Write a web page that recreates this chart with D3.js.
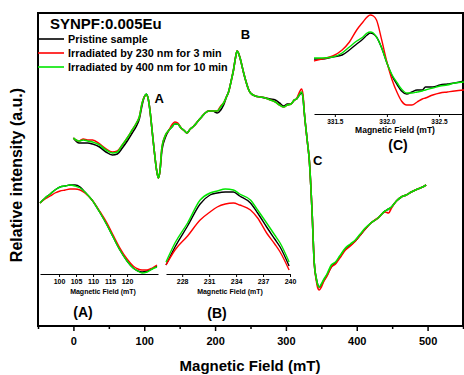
<!DOCTYPE html>
<html>
<head>
<meta charset="utf-8">
<script src="https://cdn.jsdelivr.net/npm/d3@7"></script>
<style>
	body { margin: 0; background: #fff; }
	svg text { font-family: "Liberation Sans", Arial, sans-serif; font-weight: bold; fill: #000; }
</style>
</head>
<body>
<div id="chart"></div>
<script>

///////////////////////////////////////////////////////////////////////////
//////////////////////////////// The data /////////////////////////////////
///////////////////////////////////////////////////////////////////////////

var seriesNames = ["Pristine sample", "Irradiated by 230 nm for 3 min", "Irradiated by 400 nm for 10 min"];
var seriesColors = ["#000000", "#ff0000", "#00e600"];
var peakLabels = ["A", "B", "C"];
var peakFields = [121, 243, 345];
var peakValues = [67, 131, 5];

var xTicks = [0, 100, 200, 300, 400, 500];

//Main spectrum (mT, a.u.)
var mainField = [0,8,14,20,27,37,46,55,62,69,76,83,89,93,97,100,103,105,108,111,114,117,120,122,125,130,135,139,143,147,152,157,160,165,170,176,181,186,191,197,203,208,212,216,219,223,226,229,231,233,236,240,243,247,250,257,264,271,278,285,291,297,302,307,312,315,318,322,324,326,330,333,337,340,343,345,347,350,353,358,364,370,376,384,391,398,405,412,420,430,440,445,449,456,463,470,477,486,493,498];
var mainBlack = [32,27,27,27,26,23,18,15,16,22,29,37,44,51,65,73,76,73,60,40,20,2,-8,-2,20,33,40,43,46,46,42,39,37,41,44,49,53,57,59,59,57,60,65,73,78,90,100,113,119,117,110,98,90,81,77,74,73,72,71,70,67,64,66,66,70,71,74,77,73,57,30,10,-43,-93,-109,-115,-117,-115,-111,-105,-97,-93,-87,-79,-75,-71,-65,-59,-53,-48,-41,-39,-37,-31,-27,-25,-22,-19,-17,-15];
var mainRed = [32,29,31,30,30,26,21,18,19,25,32,40,47,53,67,73,75,73,60,40,20,2,-8,-2,23,35,40,45,48,47,42,39,37,41,44,49,53,57,59,59,59,64,67,73,78,90,100,113,119,117,110,98,90,81,77,74,73,72,70,68,65,63,65,66,70,71,76,81,76,57,30,10,-43,-93,-111,-118,-120,-117,-112,-106,-97,-94,-88,-80,-76,-71,-65,-59,-53,-48,-42,-43,-38,-31,-27,-25,-22,-19,-17,-15];
var mainGreen = [32,29,30,29,28,25,20,17,18,25,32,40,47,53,67,73,76,73,60,40,20,2,-8,-2,23,35,40,43,46,46,42,39,37,41,44,49,53,57,59,59,59,63,67,73,78,90,100,113,119,117,110,98,90,81,77,74,73,72,70,68,65,63,65,66,70,71,74,78,73,57,30,10,-43,-93,-109,-115,-117,-114,-110,-104,-95,-92,-86,-78,-74,-70,-64,-58,-53,-48,-41,-39,-37,-31,-27,-25,-22,-19,-17,-15];

//Inset (A)
var insetAField = [94.4,95.9,97.4,98.8,100.3,101.8,103.2,104.7,106.2,107.6,109.7,112.1,114.1,115.9,117.9,120.0,121.8,123.2,124.4,125.9,127.4,128.8];
var insetABlack = [71,76,80,84,87,88,89,89,87,82,74,61,49,37,24,13,6,3,2,3,5,8];
var insetARed = [71,75,78,81,83,84,85,85,84,81,74,62,51,39,26,15,8,5,4,4,6,9];
var insetAGreen = [71,76,80,84,87,88,89,88,86,82,74,61,49,37,24,13,6,3,1,2,5,7];
var insetATicks = [100, 105, 110, 115, 120];

//Inset (B)
var insetBField = [226.2,227.2,228.6,230.0,231.1,231.9,232.8,233.7,234.4,235.6,236.4,237.4,238.3,238.9,239.9];
var insetBBlack = [9,27,48,70,79,81,82,82,78,71,61,47,35,27,8];
var insetBRed = [9,24,38,54,62,67,70,71,69,64,56,41,30,22,4];
var insetBGreen = [12,31,51,74,81,83,85,84,80,74,64,51,39,31,12];
var insetBTicks = [228, 231, 234, 237, 240];

//Inset (C)
var insetCField = [331.30,331.375,331.48,331.57,331.64,331.71,331.77,331.81,331.84,331.87,331.90,331.95,332.00,332.05,332.10,332.14,332.19,332.24,332.29,332.34,332.37,332.44,332.51,332.58,332.65,332.74];
var insetCBlack = [55,55,57,59,64,70,75,79,81,80,77,66,51,38,29,23,20,22,24,24,27,27,29,30,31,33];
var insetCRed = [53,55,58,64,72,84,92,97,99,98,94,74,52,34,21,13,9,9,12,15,16,19,21,22,23,24];
var insetCGreen = [56,56,57,61,67,73,77,81,82,81,77,66,51,39,31,25,21,21,22,23,24,26,28,29,31,32];
var insetCTicks = [331.5, 332.0, 332.5];

///////////////////////////////////////////////////////////////////////////
//////////////////// Set up and initiate svg container ////////////////////
///////////////////////////////////////////////////////////////////////////

var width = 464;
var height = 375;
var margin = { top: 13, right: 1, bottom: 49, left: 38 };

var svg = d3.select("#chart")
	.append("svg")
	.attr("width", width)
	.attr("height", height);

var x = d3.scaleLinear()
	.domain([-50, 550])
	.range([margin.left, width - margin.right]);

var y = d3.scaleLinear()
	.domain([-156, 157])
	.range([height - margin.bottom, margin.top]);

var line = function(xs, ys) {
	return d3.line()
		.x(function(d) { return xs(d[0]); })
		.y(function(d) { return ys(d[1]); })
		.curve(d3.curveMonotoneX);
};

var zip = function(a, b) { return a.map(function(d, i) { return [d, b[i]]; }); };

///////////////////////////////////////////////////////////////////////////
///////////////////////////// Frame and axis //////////////////////////////
///////////////////////////////////////////////////////////////////////////

svg.append("rect")
	.attr("x", margin.left)
	.attr("y", margin.top)
	.attr("width", width - margin.right - margin.left)
	.attr("height", height - margin.bottom - margin.top)
	.style("fill", "none")
	.style("stroke", "#000")
	.style("stroke-width", 2);

var xAxis = svg.append("g")
	.attr("transform", "translate(0," + (height - margin.bottom) + ")")
	.call(d3.axisBottom(x).tickValues(xTicks).tickSize(5).tickPadding(6));
xAxis.select(".domain").remove();
xAxis.selectAll("line").style("stroke-width", 1.5);
xAxis.selectAll("text").style("font-size", "11px");

//Minor ticks
svg.append("g")
	.attr("transform", "translate(0," + (height - margin.bottom) + ")")
	.call(d3.axisBottom(x).tickValues(d3.range(-50, 551, 100)).tickSize(3).tickFormat(""))
	.call(function(g) { g.select(".domain").remove(); g.selectAll("line").style("stroke-width", 1.5); });

svg.append("text")
	.attr("x", 250)
	.attr("y", 371)
	.attr("text-anchor", "middle")
	.style("font-size", "15px")
	.text("Magnetic Field (mT)");

svg.append("text")
	.attr("transform", "translate(22,175) rotate(-90)")
	.attr("text-anchor", "middle")
	.style("font-size", "16px")
	.text("Relative intensity (a.u.)");

///////////////////////////////////////////////////////////////////////////
/////////////////////////////// Main spectra //////////////////////////////
///////////////////////////////////////////////////////////////////////////

var mainData = [mainBlack, mainRed, mainGreen];
mainData.forEach(function(vals, i) {
	svg.append("path")
		.datum(zip(mainField, vals))
		.attr("d", line(x, y))
		.style("fill", "none")
		.style("stroke", seriesColors[i])
		.style("stroke-width", 1.6);
});

svg.selectAll(".peakLabel")
	.data(peakLabels)
	.enter().append("text")
	.attr("class", "peakLabel")
	.attr("x", function(d, i) { return x(peakFields[i]); })
	.attr("y", function(d, i) { return y(peakValues[i]); })
	.attr("text-anchor", "middle")
	.style("font-size", "13px")
	.text(function(d) { return d; });

///////////////////////////////////////////////////////////////////////////
///////////////////////////////// Legend //////////////////////////////////
///////////////////////////////////////////////////////////////////////////

svg.append("text")
	.attr("x", 50)
	.attr("y", 29)
	.style("font-size", "15px")
	.text("SYNPF:0.005Eu");

var legend = svg.selectAll(".legend")
	.data(seriesNames)
	.enter().append("g")
	.attr("class", "legend")
	.attr("transform", function(d, i) { return "translate(38," + (39 + i * 14) + ")"; });

legend.append("line")
	.attr("x1", 0)
	.attr("x2", 26)
	.style("stroke", function(d, i) { return seriesColors[i]; })
	.style("stroke-width", 1.6);

legend.append("text")
	.attr("x", 30)
	.attr("y", 4)
	.style("font-size", "10.8px")
	.text(function(d) { return d; });

///////////////////////////////////////////////////////////////////////////
///////////////////////////////// Insets //////////////////////////////////
///////////////////////////////////////////////////////////////////////////

function drawInset(opt) {
	var ix = d3.scaleLinear().domain(opt.domain).range(opt.range);
	var iy = d3.scaleLinear().domain([0, 100]).range([opt.axisY, opt.axisY - 100]);

	var g = svg.append("g").attr("class", "inset");

	[opt.black, opt.red, opt.green].forEach(function(vals, i) {
		g.append("path")
			.datum(zip(opt.field, vals))
			.attr("d", line(ix, iy))
			.style("fill", "none")
			.style("stroke", seriesColors[i])
			.style("stroke-width", 1.4);
	});

	var ax = g.append("g")
		.attr("transform", "translate(0," + opt.axisY + ")")
		.call(d3.axisBottom(ix).tickValues(opt.ticks).tickSize(3).tickSizeOuter(0).tickPadding(2)
			.tickFormat(opt.format || d3.format("d")));
	ax.select(".domain").style("stroke-width", 1);
	ax.selectAll("text").style("font-size", opt.tickFont);

	g.append("text")
		.attr("x", opt.titleX)
		.attr("y", opt.axisY + opt.titleDy)
		.attr("text-anchor", "middle")
		.style("font-size", opt.titleFont)
		.text("Magnetic Field (mT)");

	g.append("text")
		.attr("x", opt.nameX)
		.attr("y", opt.nameY)
		.attr("text-anchor", "middle")
		.style("font-size", "14px")
		.text(opt.name);
}

drawInset({ field: insetAField, black: insetABlack, red: insetARed, green: insetAGreen,
	domain: [94.4, 129.1], range: [40, 158], axisY: 274, ticks: insetATicks,
	tickFont: "7px", titleX: 103, titleDy: 20, titleFont: "7px", name: "(A)", nameX: 83, nameY: 317 });

drawInset({ field: insetBField, black: insetBBlack, red: insetBRed, green: insetBGreen,
	domain: [226.2, 240], range: [166, 290], axisY: 274, ticks: insetBTicks,
	tickFont: "7px", titleX: 230, titleDy: 20, titleFont: "7px", name: "(B)", nameX: 217, nameY: 318 });

drawInset({ field: insetCField, black: insetCBlack, red: insetCRed, green: insetCGreen,
	domain: [331.3, 332.74], range: [314, 464], axisY: 114, ticks: insetCTicks, format: d3.format(".1f"),
	tickFont: "6.5px", titleX: 395, titleDy: 19, titleFont: "8.5px", name: "(C)", nameX: 398, nameY: 150 });

</script>
</body>
</html>
